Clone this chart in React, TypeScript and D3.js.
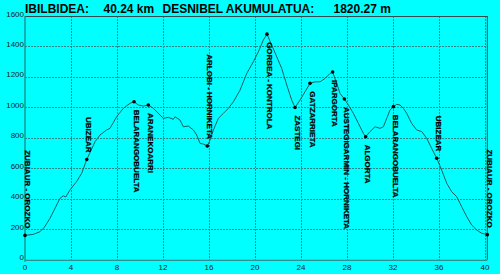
import React from "react";
import * as d3 from "d3";

const distanceKm = [
  0, 0.72, 1.3, 1.68, 2.17, 2.61, 3.04, 3.33, 3.54, 3.91, 4.5, 4.93, 5.37,
  6.09, 6.52, 7.1, 7.39, 7.97, 8.55, 9.13, 9.48, 9.85, 10.29, 10.72, 11.16,
  11.74, 12.03, 12.46, 12.9, 13.04, 13.48, 13.77, 14.2, 14.64, 14.93, 15.22,
  15.5, 15.85, 16.09, 16.38, 16.81, 17.25, 17.68, 18.12, 18.7, 19.28, 19.85,
  20.29, 20.72, 21.04, 21.45, 21.89, 22.32, 22.76, 23.19, 23.48, 23.91, 24.35,
  24.78, 25.22, 25.65, 26.09, 26.52, 26.75, 27.1, 27.39, 27.77, 28.12, 28.55,
  28.99, 29.42, 29.62, 30.0, 30.43, 30.87, 31.16, 31.45, 31.74, 32.03, 32.32,
  32.61, 32.9, 33.19, 33.62, 34.06, 34.5, 34.93, 35.36, 35.8, 36.23, 36.67,
  37.1, 37.54, 37.97, 38.41, 38.84, 39.28, 39.71, 40.2,
];
const elevationM = [
  160, 167, 184, 213, 272, 338, 403, 420, 412, 458, 515, 568, 658,
  775, 819, 852, 863, 939, 994, 1027, 1037, 1016, 1009, 1016, 994,
  950, 928, 935, 922, 939, 917, 873, 878, 852, 819, 764,
  760, 747, 786, 852, 928, 961, 994, 1037, 1114, 1223, 1299,
  1365, 1442, 1481, 1409, 1332, 1256, 1147, 1048, 1000, 1048, 1103,
  1158, 1168, 1168, 1190, 1223, 1232, 1158, 1092, 1055, 1016, 961,
  895, 830, 808, 841, 873, 863, 873, 928, 983, 1005, 1020,
  1016, 994, 961, 895, 852, 841, 797, 731, 666, 589, 502,
  447, 414, 348, 283, 228, 195, 174, 165,
];

const labelNames = [
  "ZUBIAUR - OROZKO",
  "UBIZEAR",
  "BELARANGOBUELTA",
  "ARANEKOARRI",
  "ARLOBI - HORNIKETA",
  "GORBEA - KONTROLA",
  "ZASTEGI",
  "GATZARRIETA",
  "IPARGORTA",
  "AUSTEGIGARMIN - HORNIKETA",
  "ALGORTA",
  "BELARANGOBUELTA",
  "UBIZEAR",
  "ZUBIAUR - OROZKO",
];
const labelKm = [0, 5.37, 9.48, 10.72, 15.85, 21.04, 23.48, 24.78, 26.75, 27.77, 29.62, 32.03, 35.8, 40.2];
const labelElev = [160, 658, 1037, 1016, 747, 1481, 1000, 1158, 1232, 1055, 808, 1005, 666, 165];

const xTicks = [0, 4, 8, 12, 16, 20, 24, 28, 32, 36, 40];
const yTicks = [0, 200, 400, 600, 800, 1000, 1200, 1400, 1600];
const titleParts = ["IBILBIDEA:", "40.24 km", "DESNIBEL AKUMULATUA:", "1820.27 m"];

export default function App() {
  const W = 500;
  const H = 274;
  const x = d3.scaleLinear().domain([0, 40.24]).range([25, 487.8]);
  const y = d3.scaleLinear().domain([0, 1600]).range([259.8, 16]);
  const pts = distanceKm.map((d, i) => [d, elevationM[i]] as [number, number]);
  const line = d3
    .line<[number, number]>()
    .x((d) => x(d[0]))
    .y((d) => y(d[1]));
  const left = x(0);
  const right = 487.3;
  const top = y(1600);
  const bottom = y(0);
  const titleX = [25, 103.5, 162.5, 333.5];
  const font = "'Liberation Sans', Arial, sans-serif";
  const gridColor = "#278a8a";

  return (
    <svg
      width={W}
      height={H}
      style={{ position: "fixed", left: 0, top: 0, display: "block" }}
      fontFamily={font}
    >
      <rect x={0} y={0} width={W} height={H} fill="#00ffff" />
      {xTicks
        .filter((t) => t > 0)
        .map((t) => (
          <line
            key={"vx" + t}
            x1={Math.round(x(t)) + 0.5}
            x2={Math.round(x(t)) + 0.5}
            y1={top}
            y2={bottom}
            stroke={gridColor}
            strokeWidth={1}
            strokeDasharray="2,1"
          />
        ))}
      {yTicks
        .filter((t) => t > 0 && t < 1600)
        .map((t) => (
          <line
            key={"hy" + t}
            x1={left}
            x2={right}
            y1={Math.round(y(t)) + 0.5}
            y2={Math.round(y(t)) + 0.5}
            stroke={gridColor}
            strokeWidth={1}
            strokeDasharray="2,1"
          />
        ))}
      <line x1={left} x2={right} y1={Math.round(top) + 0.5} y2={Math.round(top) + 0.5} stroke="#3a4a4a" strokeWidth={1} />
      <line x1={right} x2={right} y1={top} y2={bottom} stroke="#3a4a4a" strokeWidth={1} />
      <line x1={left} x2={left} y1={top} y2={bottom + 2} stroke="#1f7f7f" strokeWidth={1.2} />
      <line x1={left} x2={right} y1={bottom + 0.5} y2={bottom + 0.5} stroke="#2f8f8f" strokeWidth={1.2} />
      {yTicks.map((t) => (
        <text key={"yl" + t} x={24} y={y(t) + 0.5} textAnchor="end" fontSize={8} fill="#222">
          {t}
        </text>
      ))}
      {xTicks.map((t) => (
        <text key={"xl" + t} x={x(t)} y={269.5} textAnchor="middle" fontSize={8} fill="#222">
          {t}
        </text>
      ))}
      <path d={line(pts) || ""} fill="none" stroke="#175f5f" strokeWidth={1} />
      {labelNames.map((name, i) => {
        const mx = x(labelKm[i]);
        const my = y(labelElev[i]);
        const above = labelElev[i] < 780;
        return (
          <g key={"lb" + i}>
            <circle cx={mx} cy={my} r={1.8} fill="#000" />
            <text
              transform={`translate(${mx + 2.5},${above ? my - 7 : my + 8}) rotate(90)`}
              textAnchor={above ? "end" : "start"}
              dy="0.35em"
              fontSize={8}
              fontWeight="bold"
              fill="#000"
              stroke="#000"
              strokeWidth={0.25}
            >
              {name}
            </text>
          </g>
        );
      })}
      {titleParts.map((p, i) => (
        <text key={"t" + i} x={titleX[i]} y={12.8} fontSize={12} fontWeight="bold" fill="#000">
          {p}
        </text>
      ))}
    </svg>
  );
}
